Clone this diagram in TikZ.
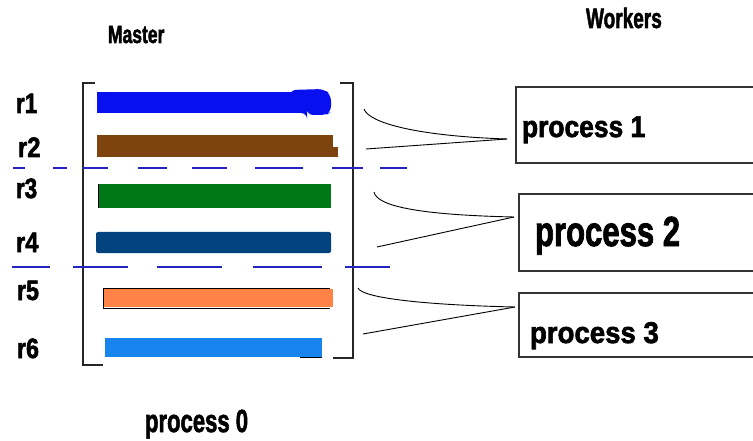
\documentclass[tikz,border=0pt]{standalone}
\usepackage{fontspec}
\usepackage{graphicx}
\setmainfont{Liberation Sans}
\newfontfamily\heavyfont[FakeBold=2.2]{Liberation Sans Bold}

% condensed heavy lettering: size, horizontal squeeze, text
\newcommand{\cond}[3]{\fontsize{#1}{#1}\selectfont\heavyfont\scalebox{#2}[1]{#3}}

\definecolor{rowA}{RGB}{8,16,240}
\definecolor{rowB}{RGB}{126,68,14}
\definecolor{rowC}{RGB}{0,120,22}
\definecolor{rowD}{RGB}{2,66,126}
\definecolor{rowE}{RGB}{255,130,70}
\definecolor{rowF}{RGB}{24,132,238}
\definecolor{divblue}{RGB}{36,36,190}

\begin{document}
\begin{tikzpicture}[x=1pt,y=-1pt,
  lbl/.style={anchor=base west, inner sep=0pt, outer sep=0pt, text=black},
  bracket/.style={line width=1.3pt, draw=black!85, line join=miter},
  boxside/.style={line width=1.6pt, draw=black!80},
  link/.style={line width=0.9pt, draw=black},
  split/.style={line width=1.2pt, draw=divblue},
  slot/.style={inner sep=0pt, outer sep=0pt, anchor=north west}]

\useasboundingbox (0,0) rectangle (753,441);

% headings
\node[lbl] (master)  at (108,43)  {\cond{25}{0.7}{Master}};
\node[lbl] (workers) at (586,28)  {\cond{28}{0.68}{Workers}};

% row labels
\node[lbl] (r1) at (16,113) {\cond{28}{0.8}{r1}};
\node[lbl] (r2) at (18,157) {\cond{28}{0.85}{r2}};
\node[lbl] (r3) at (16,198) {\cond{28}{0.8}{r3}};
\node[lbl] (r4) at (16,252) {\cond{28}{0.85}{r4}};
\node[lbl] (r5) at (17,300) {\cond{28}{0.83}{r5}};
\node[lbl] (r6) at (17,358) {\cond{28}{0.83}{r6}};

% rows held by the master
\fill[rowA] (97,92) rectangle (305,113);
\fill[rowA, rounded corners=6pt] (290,90) -- (324,89) -- (331,95) -- (331,112)
  -- (326,115) -- (307,115) -- (307,113) -- (290,113) -- cycle;
\fill[rowB] (97,135) rectangle (333,157);
\fill[rowB] (333,147) rectangle (338,157);
\fill[rowC] (98,184) rectangle (331,208);
\draw[black, line width=0.8pt] (98,184) -- (98,208);
\fill[rowD, rounded corners=2pt] (96,232) rectangle (331,253);
\fill[rowE] (103,289) rectangle (333,307);
\draw[black, line width=0.8pt] (330,288) -- (103,288) -- (103,308) -- (330,308);
\fill[rowF] (105,338) rectangle (322,357);
\draw[black, line width=1pt] (300,357) -- (322,357);

% brackets
\draw[bracket] (95,83) -- (83,83) -- (83,365) -- (103,365);
\draw[bracket] (340,83) -- (353,83) -- (353,358) -- (333,358);

% dividers between row groups
\coordinate (d1a) at (13,168);  \coordinate (d1b) at (407,168);
\coordinate (d2a) at (12,267);  \coordinate (d2b) at (390,267);
\draw[split, dash pattern=on 12pt off 28pt on 14pt off 15pt on 26pt off 30pt on 29pt off 25pt
  on 35pt off 28pt on 48pt off 29pt on 31pt off 17pt on 27pt off 200pt] (d1a) -- (d1b);
\draw[split, dash pattern=on 38pt off 23pt on 55pt off 29pt on 65pt off 31pt on 69pt off 23pt
  on 45pt off 200pt] (d2a) -- (d2b);

% worker boxes (open on the right)
\node[slot, minimum width=237pt, minimum height=76pt] (box1) at (516,87) {};
\node[slot, minimum width=234pt, minimum height=77pt] (box2) at (519,194) {};
\node[slot, minimum width=234pt, minimum height=64pt] (box3) at (519,293) {};
\foreach \b in {box1,box2,box3}
  \draw[boxside] (\b.north east) -- (\b.north west) -- (\b.south west) -- (\b.south east);

\node[lbl] (p1) at (522,137) {\cond{30}{0.88}{process 1}};
\node[lbl] (p2) at (535,246) {\cond{42}{0.74}{process 2}};
\node[lbl] (p3) at (530,343) {\cond{30}{0.92}{process 3}};
\node[lbl] (p0) at (145,432) {\cond{32}{0.69}{process 0}};

% links from row pairs to workers
\coordinate (u1) at (364,109); \coordinate (l1) at (366,149); \coordinate (t1) at (507,139);
\coordinate (u2) at (374,192); \coordinate (l2) at (377,247); \coordinate (t2) at (514,217);
\coordinate (u3) at (358,288); \coordinate (l3) at (363,334); \coordinate (t3) at (515,307);
\draw[link] (u1) .. controls +(5,14) and +(-90,-3) .. (t1);
\draw[link] (l1) -- (t1);
\draw[link] (u2) .. controls +(3,15) and +(-90,-2) .. (t2);
\draw[link] (l2) -- (t2);
\draw[link] (u3) .. controls +(4,10) and +(-90,-2) .. (t3);
\draw[link] (l3) -- (t3);
\end{tikzpicture}
\end{document}
